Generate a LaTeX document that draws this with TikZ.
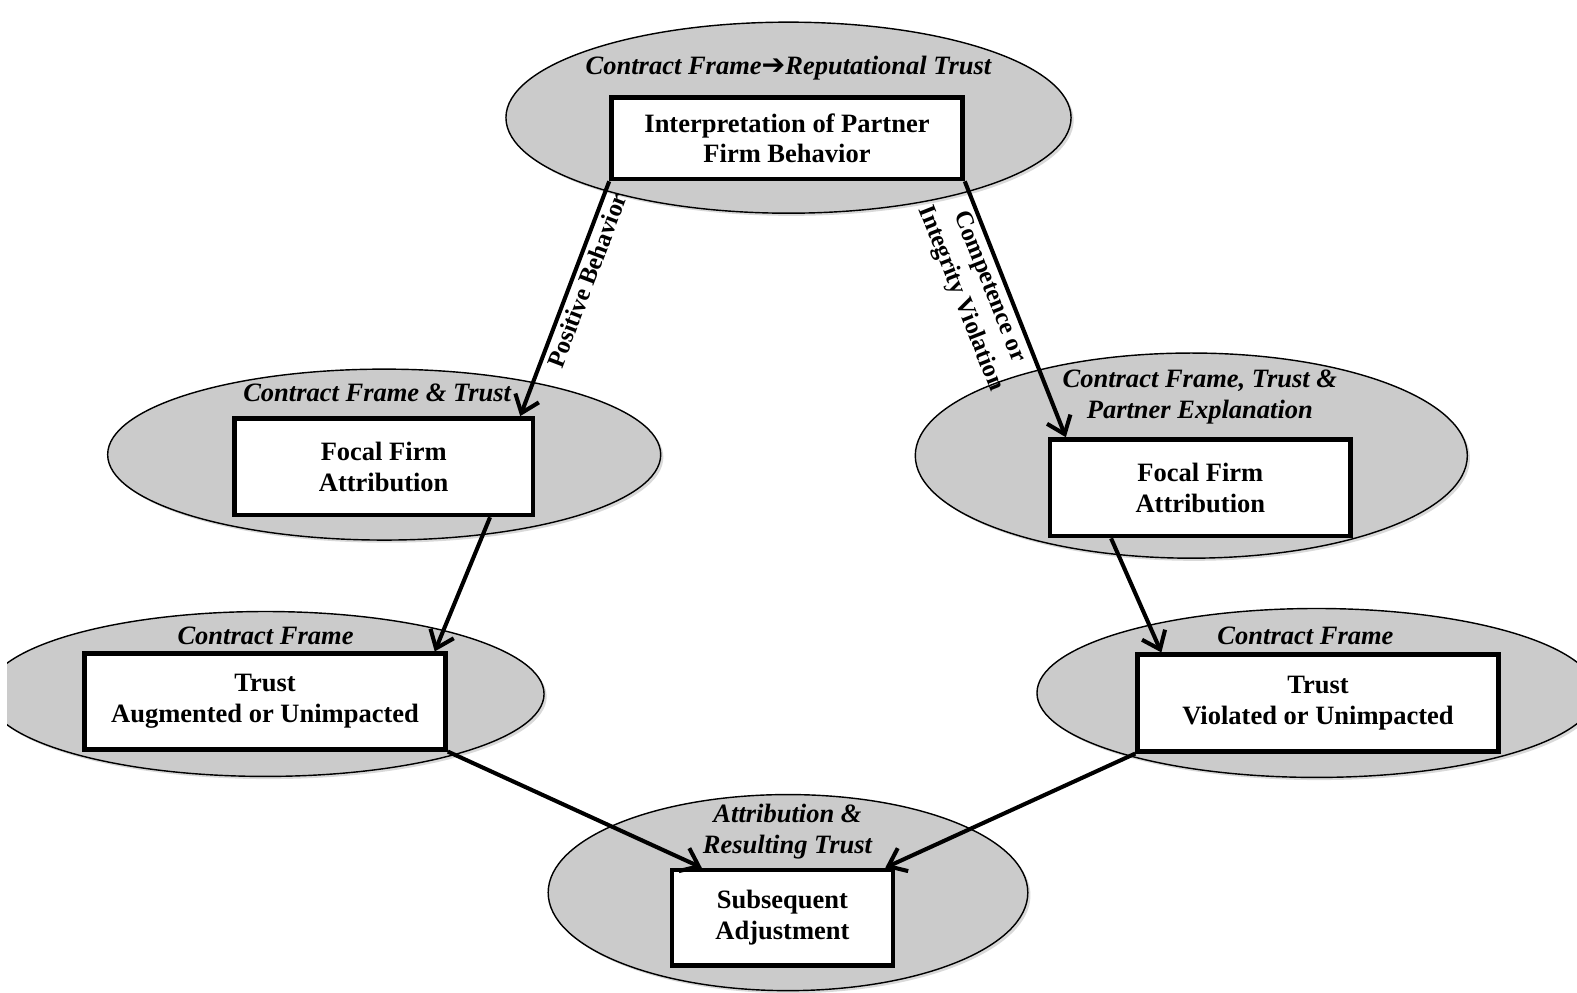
\documentclass[tikz,border=0pt]{standalone}
\usepackage{fontspec}
\setmainfont{Liberation Serif}
\newfontfamily\symfont{DejaVu Sans}
\usetikzlibrary{shapes.geometric,arrows.meta,calc,shadows}
\definecolor{ellgray}{RGB}{203,203,203}
\begin{document}
\begin{tikzpicture}[x=0.02cm,y=-0.02cm,
  ell/.style={ellipse, draw=black, line width=0.8pt, fill=ellgray, inner sep=0pt, outer sep=0pt,
    drop shadow={shadow xshift=1.5pt, shadow yshift=-1.5pt, opacity=0.3}},
  box/.style={rectangle, draw=black, line width=2.6pt, fill=white, inner sep=0pt, align=center,
    font=\bfseries\fontsize{15}{17.5}\selectfont},
  lab/.style={align=center, inner sep=0pt, font=\bfseries\itshape\fontsize{15}{17.5}\selectfont},
  arr/.style={line width=2.3pt, -{Straight Barb[length=0.32cm,width=0.5cm]}},
  alab/.style={font=\bfseries\fontsize{14}{17.5}\selectfont, align=center, sloped, inner sep=2pt}]
\useasboundingbox (0,0) rectangle (1568,987);
\clip (7,0) rectangle (1568,987);
% ellipses
\node[ell, minimum width=11.24cm, minimum height=3.8cm] (e1) at (784,117) {};
\node[ell, minimum width=11.0cm, minimum height=3.4cm] (e2) at (382,452) {};
\node[ell, minimum width=10.98cm, minimum height=4.08cm] (e3) at (1184.5,453) {};
\node[ell, minimum width=11.08cm, minimum height=3.28cm] (e4) at (264,690) {};
\node[ell, minimum width=11.12cm, minimum height=3.36cm] (e5) at (1309,689) {};
\node[ell, minimum width=9.54cm, minimum height=3.9cm] (e6) at (783.5,887.5) {};
% ellipse labels
\node[lab] (l1) at (784,68) {Contract Frame{\symfont\mdseries\upshape\fontsize{16}{17.5}\selectfont ➔}Reputational Trust};
\node[lab] (l2) at (375,391) {Contract Frame \& Trust};
\node[lab] (l3) at (1193,395) {Contract Frame, Trust \&\\Partner Explanation};
\node[lab] (l4) at (264,632) {Contract Frame};
\node[lab] (l5) at (1298,632) {Contract Frame};
\node[lab] (l6) at (783,827) {Attribution \&\\Resulting Trust};
% boxes
\node[box, minimum width=6.98cm, minimum height=1.62cm] (ip) at (782.5,137.5) {Interpretation of Partner\\Firm Behavior};
\node[box, minimum width=5.94cm, minimum height=1.92cm] (fl) at (381.5,464) {Focal Firm\\Attribution};
\node[box, minimum width=5.98cm, minimum height=1.92cm] (fr) at (1193.5,485) {Focal Firm\\Attribution};
\node[box, minimum width=7.18cm, minimum height=1.9cm] (bl) at (263.5,697.5) {Trust\\Augmented or Unimpacted};
\node[box, minimum width=7.18cm, minimum height=1.92cm] (br) at (1310.5,699) {Trust\\Violated or Unimpacted};
\node[box, minimum width=4.4cm, minimum height=1.9cm] (sa) at (778,912.5) {Subsequent\\Adjustment};
% connectors
\draw[arr] (ip.south west) -- node[alab, pos=0.4, below] {Positive Behavior} ($(fl.north east)+(-15,0)$);
\draw[arr] (ip.south east) -- node[alab, pos=0.39, below] {Competence or\\Integrity Violation} ($(fr.north west)+(18,0)$);
\draw[arr] ($(fl.south east)+(-45,0)$) -- ($(bl.north east)+(-13,0)$);
\draw[arr] ($(fr.south west)+(63,0)$) -- ($(br.north west)+(26,0)$);
\draw[arr] (bl.south east) -- ($(sa.north west)+(32,0)$);
\draw[arr] (br.south west) -- ($(sa.north east)+(-10,0)$);
\end{tikzpicture}
\end{document}
